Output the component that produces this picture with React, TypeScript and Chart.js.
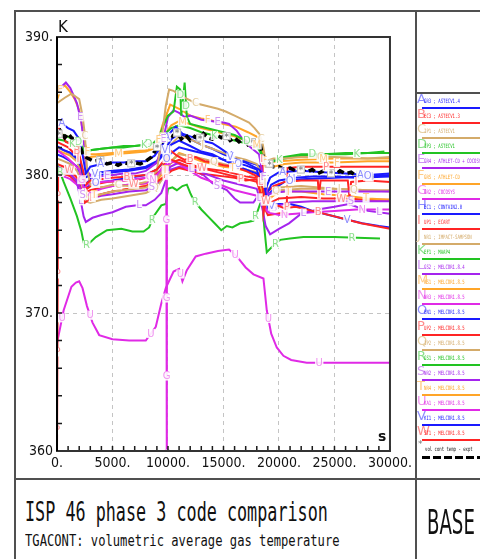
import React, { useEffect, useRef } from 'react';
import { Chart, registerables } from 'chart.js';

Chart.register(...registerables);

type Pts = [number, number][];

// ---- axis ticks ----
const X_MIN = 0;
const X_MAX = 30000;
const X_STEP = 1000;
const X_LABEL_EVERY = 5000;
const Y_MIN = 360;
const Y_MAX = 390;
const Y_STEP = 2;
const Y_LABEL_EVERY = 10;

// ---- series: [time s, temperature K] ----
const EXPT: Pts = [[0,382.8],[300,383.2],[700,382.7],[1000,383.0],[1400,382.6],[1800,382.8],[2100,382.0],[2400,381.4],[2800,381.2],[3300,381.0],[4000,381.1],[4500,380.8],[5000,380.9],[5500,380.7],[6000,380.9],[6500,380.8],[7000,380.9],[7500,380.8],[8000,381.0],[8500,381.3],[9000,382.0],[9400,382.5],[9700,382.3],[10000,383.0],[10400,382.8],[10800,383.1],[11200,382.6],[11600,382.9],[12000,382.5],[12400,382.8],[12800,382.6],[13200,383.0],[13600,382.7],[14000,382.6],[14400,382.9],[14800,382.7],[15200,382.9],[15600,382.5],[16000,382.7],[16400,382.4],[16800,382.6],[17200,382.2],[17600,382.4],[18000,382.0],[18300,382.2],[18600,381.2],[19000,380.9],[19500,380.6],[20000,380.6],[20500,380.4],[21000,380.5],[21500,380.3],[22000,380.4],[22500,380.2],[23000,380.4],[23500,380.1],[24000,380.3],[24500,380.2],[25000,380.0],[25500,380.3],[26000,380.1],[26500,380.2],[27000,379.9],[27500,380.1],[28000,379.9],[28600,379.8]];
const A_GR3: Pts = [[0,384.0],[500,383.7],[1000,383.4],[1500,383.2],[2000,382.6],[2300,381.5],[2600,380.1],[3000,380.6],[4000,380.8],[5000,380.9],[6000,380.9],[7000,381.0],[8000,381.0],[8800,381.4],[9500,382.2],[10000,382.9],[10700,383.5],[11300,383.0],[12000,382.8],[13000,382.5],[14000,382.3],[14600,382.0],[15500,381.5],[16100,381.1],[17000,380.9],[18200,380.4],[18600,380.0],[18800,379.0],[19200,379.8],[20000,380.2],[22000,380.3],[24000,380.2],[26000,380.1],[28000,380.0],[30000,380.1]];
const B_EC3: Pts = [[0,383.7],[400,383.0],[800,382.4],[1400,382.2],[2000,381.5],[2300,380.5],[2600,379.3],[3000,379.6],[4000,379.7],[5000,379.8],[6500,379.9],[8000,380.0],[9000,380.4],[9600,381.0],[10200,381.8],[10800,381.4],[11500,381.1],[12500,381.3],[13300,381.0],[14000,380.9],[15000,380.7],[16000,380.6],[17000,380.3],[17800,380.0],[18400,379.7],[18700,378.4],[19200,377.6],[19800,377.8],[20500,377.6],[21500,377.7],[23000,377.4],[25000,377.0],[27400,376.5],[30000,376.1]];
const C_IP1: Pts = [[0,385.2],[700,385.6],[1300,385.9],[2000,385.5],[2300,384.3],[2500,383.0],[2700,380.5],[3000,379.3],[4000,379.1],[5000,379.3],[6500,379.2],[8000,379.5],[9000,380.3],[9400,382.5],[9800,385.0],[10100,386.2],[10500,386.1],[11000,385.8],[11500,385.6],[12500,385.2],[13500,385.0],[14500,384.8],[15200,384.6],[16000,384.3],[16800,384.0],[17300,383.8],[17800,383.4],[18200,383.0],[18500,382.4],[18800,381.0],[19500,381.2],[20500,381.2],[22000,381.3],[25000,381.3],[28000,381.2],[30000,381.3]];
const D_IP3: Pts = [[0,383.0],[600,382.9],[1200,382.7],[1800,382.5],[2200,382.2],[2500,381.6],[3000,381.8],[4000,381.9],[5000,382.0],[6000,382.1],[7000,382.1],[8000,382.2],[8700,382.3],[9200,382.8],[9600,383.6],[10000,384.3],[10500,384.6],[10800,386.4],[11100,386.2],[11200,384.3],[11500,386.7],[11700,384.2],[12000,383.7],[13000,383.5],[14000,383.3],[15000,383.1],[16000,382.9],[17000,382.5],[17600,382.3],[18200,382.1],[18600,381.2],[19000,380.9],[19600,381.1],[20500,381.3],[22000,381.5],[24000,381.5],[26000,381.6],[28000,381.6],[29500,381.7]];
const E_GR4: Pts = [[0,385.9],[400,386.4],[800,386.7],[1200,386.3],[1800,385.2],[2200,383.8],[2500,381.8],[2700,380.3],[3200,379.8],[4000,379.9],[5000,380.0],[6000,380.1],[7000,380.1],[8000,380.3],[9000,380.9],[9500,382.3],[10000,384.2],[10500,384.7],[11000,384.5],[11500,384.2],[12000,384.3],[13000,384.0],[14000,383.9],[15000,383.8],[15500,383.7],[16200,383.2],[17000,382.3],[17600,381.9],[18200,381.5],[18500,380.2],[19000,378.6],[19500,378.7],[20500,378.8],[22000,378.8],[25000,378.8],[28000,378.8],[30000,378.8]];
const F_GRS: Pts = [[0,385.4],[300,386.2],[700,386.5],[1200,386.0],[1600,385.5],[2000,384.7],[2300,383.3],[2500,382.3],[2800,381.5],[3500,381.5],[5000,381.6],[6500,381.7],[8000,381.8],[9000,382.2],[9500,383.6],[10200,385.1],[11000,384.8],[12000,384.3],[13000,384.1],[13700,384.0],[15000,383.7],[16100,383.5],[17200,383.1],[18200,382.7],[18500,381.8],[18800,380.6],[19500,380.6],[20500,380.8],[22000,380.9],[25000,380.9],[28000,381.0],[30000,381.0]];
const G_GR2: Pts = [[0,381.8],[500,381.5],[1000,381.2],[1500,380.8],[2000,380.4],[2400,379.0],[2700,379.3],[4000,379.5],[6000,379.6],[8000,379.8],[9000,380.0],[9600,380.6],[9850,380.8],[9900,355.0]];
const H_EC1: Pts = [[0,382.1],[600,381.8],[1200,381.6],[1800,381.2],[2200,380.6],[2500,379.2],[3000,379.7],[4000,380.0],[5000,380.2],[6500,380.3],[8000,380.5],[9000,380.9],[9700,381.6],[10300,382.2],[11000,382.5],[12000,382.1],[13000,381.7],[14000,381.5],[15000,381.1],[16000,380.7],[17000,380.4],[18000,380.1],[18500,379.6],[18900,378.6],[19300,379.3],[20000,379.6],[21500,379.8],[23000,379.9],[25000,379.9],[27000,379.8],[30000,379.9]];
const I_UP1: Pts = [[0,382.4],[500,382.2],[1000,382.0],[1500,381.6],[2000,381.0],[2400,379.8],[2700,379.0],[3200,379.3],[4500,379.5],[6000,379.6],[7500,379.7],[8500,379.9],[9300,380.3],[10000,381.2],[10600,381.0],[11200,380.8],[12000,380.6],[13000,380.5],[14000,380.4],[15000,380.3],[16000,380.1],[17000,379.9],[17800,379.8],[18300,380.0],[18500,381.5],[18600,377.2],[19000,378.8],[19500,379.2],[20500,379.5],[22000,379.6],[23500,379.6],[23600,378.5],[23750,379.6],[26200,379.6],[26350,378.4],[26500,379.5],[28000,379.6],[30000,379.5]];
const J_NR1: Pts = [[0,382.0],[600,381.8],[1200,381.5],[1800,381.0],[2200,380.2],[2500,378.4],[3000,378.4],[4000,378.6],[5000,378.8],[6000,378.9],[7000,379.0],[8000,379.1],[8800,379.4],[9500,380.5],[10000,382.0],[11000,382.8],[12000,382.6],[13000,382.2],[14000,381.9],[15000,381.6],[16000,381.3],[17000,381.1],[18000,380.8],[18500,379.8],[19000,379.0],[20000,379.1],[22000,379.2],[25000,379.0],[28000,378.9],[30000,378.8]];
const K_EF1: Pts = [[0,382.6],[600,382.5],[1200,382.3],[1800,382.1],[2300,381.6],[2600,381.5],[3000,381.8],[4000,381.9],[5000,382.0],[6000,382.0],[7000,382.1],[8000,382.2],[9000,382.4],[9600,382.9],[10300,383.4],[11000,383.6],[12000,383.4],[13000,383.1],[14000,382.9],[15000,382.7],[16000,382.5],[17000,382.3],[18000,382.1],[18500,381.4],[18800,380.8],[19500,381.0],[20500,381.2],[22000,381.4],[24000,381.5],[26000,381.5],[28000,381.6],[30000,381.6]];
const L_GS2: Pts = [[0,380.6],[600,380.4],[1200,380.1],[1800,379.5],[2100,378.3],[2400,377.0],[2600,376.6],[3200,376.9],[4000,377.1],[5000,377.3],[6200,377.7],[7200,377.8],[8000,377.8],[8800,378.2],[9400,378.7],[9800,379.6],[10200,380.6],[11000,380.9],[12000,380.5],[13000,380.2],[14000,379.9],[15000,379.6],[16000,379.4],[17000,379.2],[18000,379.0],[18500,377.6],[18800,376.3],[19200,375.7],[20000,376.1],[20900,376.5],[22000,377.2],[23500,377.5],[25000,377.7],[26300,377.9],[28000,377.4],[30000,377.2]];
const M_RS1: Pts = [[0,383.0],[600,382.9],[1200,382.7],[1800,382.3],[2200,381.8],[2500,381.2],[3000,381.3],[4000,381.4],[5000,381.5],[6500,381.6],[8000,381.7],[9000,382.0],[9600,382.8],[10300,383.6],[11000,383.9],[12000,383.7],[13000,383.4],[14000,383.2],[15000,383.0],[16000,382.8],[17000,382.5],[17800,382.3],[18300,382.0],[18600,381.1],[19000,380.9],[20000,381.0],[22000,381.1],[25000,381.2],[28000,381.2],[30000,381.2]];
const N_NR3: Pts = [[0,380.0],[600,379.9],[1200,379.7],[1800,379.3],[2200,378.8],[2500,378.3],[3000,378.7],[4000,379.0],[5000,379.2],[6500,379.3],[8000,379.4],[9000,379.8],[9600,380.4],[10300,381.0],[11000,380.8],[12000,380.3],[13000,379.8],[14000,379.5],[15000,379.2],[16000,378.9],[17000,378.7],[18000,378.5],[18500,377.9],[19000,377.3],[20000,377.1],[21500,377.2],[23000,377.3],[25000,377.4],[27000,377.5],[30000,377.5]];
const O_EN1: Pts = [[0,381.5],[600,381.3],[1200,381.0],[1800,380.6],[2200,380.0],[2500,378.9],[3000,379.3],[4000,379.5],[5000,379.6],[6500,379.8],[8000,380.0],[9000,380.4],[9700,381.0],[10300,381.6],[11000,382.0],[12000,381.8],[13000,381.6],[14000,381.4],[15000,381.1],[16000,380.9],[17000,380.7],[18000,380.4],[18500,379.2],[18900,378.4],[19500,379.0],[20500,379.5],[22000,379.7],[25000,379.8],[28000,379.9],[30000,380.0]];
const P_UP2: Pts = [[0,360.0],[100,380.3],[600,380.1],[1200,379.9],[1800,379.4],[2200,378.6],[2500,378.0],[3000,378.3],[4000,378.6],[5000,378.8],[6500,379.0],[8000,379.2],[9000,379.5],[9700,379.9],[10300,380.3],[11000,380.5],[12000,380.3],[13000,380.1],[14000,380.0],[15000,379.9],[16000,379.8],[17000,379.6],[18000,379.7],[18500,378.0],[19000,377.1],[19800,377.2],[20700,377.3],[20750,380.5],[22000,380.6],[25000,380.6],[28000,380.6],[30000,380.6]];
const Q_IP2: Pts = [[0,381.2],[600,381.0],[1200,380.8],[1800,380.3],[2200,379.6],[2500,378.1],[3000,378.0],[4000,378.2],[5000,378.3],[6500,378.5],[8000,378.7],[9000,379.1],[9700,380.0],[10300,381.0],[11000,381.5],[12000,381.4],[13000,381.2],[14000,381.0],[15000,380.8],[16000,380.6],[17000,380.4],[18000,380.2],[18500,379.2],[19000,378.6],[20000,378.9],[22000,379.0],[25000,379.0],[28000,378.9],[30000,378.9]];
const R_GS1: Pts = [[0,380.8],[600,379.5],[1200,378.3],[1800,377.0],[2200,375.9],[2400,375.1],[2700,374.9],[3500,375.5],[4500,376.0],[5800,376.1],[6800,375.9],[7800,375.9],[8300,376.2],[8700,377.0],[9400,377.8],[9800,377.9],[10000,379.0],[10400,379.1],[10800,378.9],[11300,379.2],[11700,379.3],[12000,378.7],[12300,378.2],[13000,377.5],[13600,377.0],[14200,376.5],[14800,376.0],[15300,376.3],[15800,376.2],[16500,376.5],[17200,376.6],[17700,376.7],[18000,377.2],[18300,377.9],[18500,378.0],[18700,376.0],[18900,374.4],[19500,374.9],[20100,375.3],[21000,375.4],[22200,375.5],[25000,375.5],[29100,375.4]];
const S_NR2: Pts = [[0,380.3],[600,380.2],[1200,380.0],[1800,379.6],[2200,378.9],[2500,378.0],[3000,378.3],[4000,378.5],[5000,378.6],[6500,378.8],[8000,378.9],[9000,379.3],[9700,379.9],[10300,380.4],[11000,380.6],[12000,380.4],[13200,380.0],[14000,379.4],[15300,378.9],[16000,378.3],[16500,378.0],[17700,378.0],[18200,378.6],[18500,378.0],[19000,377.4],[20000,377.8],[21000,378.0],[23000,378.1],[26000,378.1],[30000,378.1]];
const T_NR4: Pts = [[0,381.8],[600,381.6],[1200,381.4],[1800,381.0],[2200,380.2],[2500,378.6],[3000,378.5],[4000,378.6],[5000,378.8],[6500,379.0],[8000,379.2],[9000,379.6],[9700,380.3],[10300,381.0],[11000,381.6],[12000,381.3],[13000,381.0],[14000,380.8],[15000,380.6],[16000,380.5],[17000,380.3],[18000,380.2],[18500,378.8],[19000,378.2],[20000,378.8],[22000,378.8],[24000,378.6],[26000,378.5],[28000,378.3],[30000,378.2]];
const U_KA1: Pts = [[0,367.8],[600,370.2],[1300,371.9],[1700,372.2],[2000,372.3],[2300,371.8],[2700,370.5],[3200,369.3],[3800,368.4],[5000,368.1],[6500,368.0],[8000,368.0],[8900,369.0],[9400,370.7],[9800,371.8],[10500,373.0],[11000,373.2],[11300,372.3],[11700,373.1],[12500,374.1],[13400,374.3],[14500,374.5],[15500,374.6],[16200,374.1],[17000,373.3],[17700,372.8],[18600,372.5],[18900,370.2],[19300,368.5],[19800,367.5],[20400,366.9],[21100,366.6],[22500,366.4],[25400,366.4],[30000,366.4]];
const V_KI1: Pts = [[0,382.0],[600,381.8],[1200,381.6],[1800,381.2],[2200,380.6],[2500,379.8],[3000,380.0],[4000,380.2],[5000,380.3],[6500,380.4],[8000,380.6],[9000,381.0],[9700,381.8],[10300,382.6],[11000,383.0],[12000,382.6],[13000,382.2],[14000,381.9],[15000,381.5],[16000,381.2],[17000,381.0],[17800,380.8],[18300,380.6],[18600,378.8],[19000,377.6],[19800,377.9],[21000,377.9],[22000,377.7],[23000,377.4],[24500,377.1],[26000,376.8],[27500,376.5],[29000,376.3],[30000,376.2]];
const W_ST1: Pts = [[0,380.8],[600,380.6],[1200,380.3],[1800,379.8],[2200,379.0],[2500,378.7],[3000,378.9],[4000,379.1],[5000,379.2],[6500,379.3],[8000,379.4],[9000,379.8],[9700,380.4],[10300,380.9],[11000,381.1],[12000,380.8],[13000,380.5],[14000,380.3],[15000,380.1],[16000,379.9],[17000,379.7],[18000,379.5],[18500,378.5],[19000,377.9],[20000,378.3],[22000,378.4],[24000,378.3],[26000,378.3],[28000,378.2],[30000,378.2]];

const LETTERS = ['A','B','C','D','E','F','G','H','I','J','K','L','M','N','O','P','Q','R','S','T','U','V','W'];
const LABELS = [
  'GR3 ; ASTECV1.4', 'EC3 ; ASTECV1.3', 'IP1 ; ASTECV1', 'IP3 ; ASTECV1',
  'GR4 ; ATHLET-CD + COCOSYS', 'GRS ; ATHLET-CD', 'GR2 ; COCOSYS', 'EC1 ; CONTAIN2.0',
  'UP1 ; ECART', 'NR1 ; IMPACT-SAMPSON', 'EF1 ; MAAP4', 'GS2 ; MELCOR1.8.4',
  'RS1 ; MELCOR1.8.5', 'NR3 ; MELCOR1.8.5', 'EN1 ; MELCOR1.8.5', 'UP2 ; MELCOR1.8.5',
  'IP2 ; MELCOR1.8.5', 'GS1 ; MELCOR1.8.5', 'NR2 ; MELCOR1.8.5', 'NR4 ; MELCOR1.8.5',
  'KA1 ; MELCOR1.8.5', 'KI1 ; MELCOR1.8.5', 'ST1 ; MELCOR1.8.5',
];
const SERIES: Pts[] = [A_GR3, B_EC3, C_IP1, D_IP3, E_GR4, F_GRS, G_GR2, H_EC1, I_UP1, J_NR1, K_EF1, L_GS2, M_RS1, N_NR3, O_EN1, P_UP2, Q_IP2, R_GS1, S_NR2, T_NR4, U_KA1, V_KI1, W_ST1];
const EXPT_LABEL = 'vol cont temp - expt';

const LINE_COLORS = ['#1a1aff', '#ff2424', '#d4ab6a', '#22c322', '#a524ee', '#ffa528', '#e02ae6'];
const PASTEL_COLORS = ['#8c8cff', '#ff8c8c', '#e6cfa2', '#8ce08c', '#cf94f3', '#ffcb86', '#f094f0'];

const TICK_FONT = '"Liberation Sans Narrow", "DejaVu Sans Condensed", "Arial Narrow", sans-serif';

const markerPlugin = {
  id: 'letterMarkers',
  afterDatasetsDraw(chart: any) {
    const ctx = chart.ctx as CanvasRenderingContext2D;
    const a = chart.chartArea;
    ctx.save();
    ctx.beginPath();
    ctx.rect(a.left, a.top, a.right - a.left, a.bottom - a.top);
    ctx.clip();
    chart.data.datasets.forEach((ds: any, di: number) => {
      const pts = chart.getDatasetMeta(di).data as any[];
      const spacing: number = ds.markSpacing;
      let pos: number = ds.markOffset;
      const draw = (x: number, y: number) => {
        if (ds.isExpt) {
          ctx.fillStyle = '#ffffff';
          ctx.fillRect(x - 4, y - 4, 8, 8);
          ctx.strokeStyle = '#b8b8b8';
          ctx.lineWidth = 1;
          ctx.strokeRect(x - 3.5, y - 3.5, 7, 7);
          ctx.fillStyle = '#8a8a8a';
          ctx.font = 'bold 9px "DejaVu Sans"';
          ctx.textAlign = 'center';
          ctx.textBaseline = 'middle';
          ctx.fillText('*', x, y + 1.5);
        } else {
          ctx.font = '10px "DejaVu Sans"';
          const w = ctx.measureText(ds.markLetter).width;
          ctx.fillStyle = 'rgba(255,255,255,0.9)';
          ctx.fillRect(x - w / 2 - 0.5, y - 4.5, w + 1, 9);
          ctx.fillStyle = ds.markColor;
          ctx.textAlign = 'center';
          ctx.textBaseline = 'middle';
          ctx.fillText(ds.markLetter, x, y + 0.5);
        }
      };
      for (let k = 1; k < pts.length; k++) {
        const x0 = pts[k - 1].x, y0 = pts[k - 1].y, x1 = pts[k].x, y1 = pts[k].y;
        const seg = Math.hypot(x1 - x0, y1 - y0);
        while (pos <= seg) {
          const t = seg === 0 ? 0 : pos / seg;
          draw(x0 + (x1 - x0) * t, y0 + (y1 - y0) * t);
          pos += spacing;
        }
        pos -= seg;
      }
    });
    ctx.restore();
  },
};

const framePlugin = {
  id: 'plotFrame',
  afterDraw(chart: any) {
    const ctx = chart.ctx as CanvasRenderingContext2D;
    const a = chart.chartArea;
    const xs = chart.scales.x;
    const ys = chart.scales.y;
    ctx.save();
    ctx.strokeStyle = '#1a1a1a';
    ctx.lineWidth = 1.5;
    ctx.beginPath();
    xs.ticks.forEach((t: any) => {
      const px = xs.getPixelForValue(t.value);
      ctx.moveTo(px, a.bottom);
      ctx.lineTo(px, a.bottom - 5);
    });
    ys.ticks.forEach((t: any) => {
      const py = ys.getPixelForValue(t.value);
      ctx.moveTo(a.left, py);
      ctx.lineTo(a.left + 5, py);
    });
    ctx.stroke();
    ctx.strokeStyle = '#333333';
    ctx.lineWidth = 2;
    ctx.strokeRect(a.left, a.top, a.right - a.left, a.bottom - a.top);
    ctx.strokeStyle = '#000000';
    ctx.beginPath();
    ctx.moveTo(a.left, a.top);
    ctx.lineTo(a.left, a.bottom);
    ctx.stroke();
    ctx.restore();
  },
};

function abs(left: number, top: number, extra: React.CSSProperties = {}): React.CSSProperties {
  return { position: 'absolute', left, top, margin: 0, padding: 0, whiteSpace: 'nowrap', ...extra };
}

export default function App() {
  const ref = useRef<HTMLCanvasElement | null>(null);

  useEffect(() => {
    if (!ref.current) return;
    const datasets: any[] = [];
    datasets.push({
      label: EXPT_LABEL,
      data: EXPT.map(([x, y]) => ({ x, y })),
      borderColor: '#000000',
      borderWidth: 3.5,
      borderDash: [7, 4],
      pointRadius: 0,
      tension: 0,
      fill: false,
      isExpt: true,
      markSpacing: 34,
      markOffset: 3,
    });
    SERIES.forEach((pts, i) => {
      datasets.push({
        label: LETTERS[i] + ' ' + LABELS[i],
        data: pts.map(([x, y]) => ({ x, y })),
        borderColor: LINE_COLORS[i % 7],
        borderWidth: 2,
        pointRadius: 0,
        tension: 0,
        fill: false,
        markLetter: LETTERS[i],
        markColor: PASTEL_COLORS[i % 7],
        markSpacing: 78,
        markOffset: 6 + ((i * 29) % 70),
      });
    });

    const gridColor = (every: number, lo: number, hi: number) => (c: any) => {
      const v = c.tick ? c.tick.value : NaN;
      return v % every === 0 && v > lo && v < hi ? '#c4c4c4' : 'rgba(0,0,0,0)';
    };

    const chart = new Chart(ref.current, {
      type: 'line',
      data: { datasets },
      plugins: [markerPlugin, framePlugin],
      options: {
        animation: false,
        responsive: false,
        events: [],
        layout: { padding: { top: 37, right: 23, bottom: 0, left: 0 } },
        plugins: { legend: { display: false }, tooltip: { enabled: false }, title: { display: false } },
        scales: {
          x: {
            type: 'linear',
            min: X_MIN,
            max: X_MAX,
            afterFit: (s: any) => { s.height = 27; },
            ticks: {
              stepSize: X_STEP,
              autoSkip: false,
              maxRotation: 0,
              minRotation: 0,
              padding: 4,
              color: '#111111',
              font: { family: TICK_FONT, size: 14 },
              callback: (v: any) => (Number(v) % X_LABEL_EVERY === 0 ? `${v}.` : ''),
            },
            grid: { drawTicks: false, color: gridColor(X_LABEL_EVERY, X_MIN, X_MAX), lineWidth: 1 },
            border: { display: false, dash: [4, 4] },
          },
          y: {
            type: 'linear',
            min: Y_MIN,
            max: Y_MAX,
            afterFit: (s: any) => { s.width = 57; },
            ticks: {
              stepSize: Y_STEP,
              autoSkip: false,
              padding: 4,
              color: '#111111',
              font: { family: TICK_FONT, size: 14 },
              callback: (v: any) => {
                const n = Number(v);
                if (n % Y_LABEL_EVERY !== 0) return '';
                return n === Y_MIN ? `${n}` : `${n}.`;
              },
            },
            grid: { drawTicks: false, color: gridColor(Y_LABEL_EVERY, Y_MIN, Y_MAX), lineWidth: 1 },
            border: { display: false, dash: [4, 4] },
          },
        },
      } as any,
    });
    return () => chart.destroy();
  }, []);

  const frameColor = '#505050';
  const legendRows = LETTERS.map((letter, i) => {
    const ly = 108 + 15.1 * i;
    return (
      <React.Fragment key={letter}>
        <div style={abs(417, ly - 16, { fontFamily: '"DejaVu Sans"', fontSize: 13, lineHeight: '13px', color: PASTEL_COLORS[i % 7] })}>{letter}</div>
        <div style={abs(424, ly - 10, { fontFamily: '"DejaVu Sans Mono"', fontSize: 6, lineHeight: '6px', color: LINE_COLORS[i % 7], transform: 'scaleX(0.66)', transformOrigin: 'left top' })}>{LABELS[i]}</div>
        <div style={abs(422, ly - 1, { width: 60, height: 2, background: LINE_COLORS[i % 7] })} />
      </React.Fragment>
    );
  });

  return (
    <div style={{ position: 'absolute', left: 0, top: 0, width: 480, height: 559, overflow: 'hidden', background: '#ffffff' }}>
      <canvas ref={ref} width={416} height={478} style={{ position: 'absolute', left: 0, top: 0, width: 416, height: 478 }} />
      {/* axis unit labels */}
      <div style={abs(58, 20, { fontFamily: '"DejaVu Sans"', fontSize: 15, lineHeight: '15px', color: '#111' })}>K</div>
      <div style={abs(378, 429, { fontFamily: '"DejaVu Sans"', fontSize: 14, lineHeight: '14px', fontWeight: 'bold', color: '#111' })}>s</div>
      {/* frames */}
      <div style={abs(14, 10, { width: 470, height: 2, background: frameColor })} />
      <div style={abs(14, 10, { width: 2, height: 560, background: frameColor })} />
      <div style={abs(415, 10, { width: 2, height: 560, background: frameColor })} />
      <div style={abs(14, 478, { width: 470, height: 2, background: frameColor })} />
      <div style={abs(416, 92, { width: 70, height: 2, background: frameColor })} />
      {/* legend */}
      {legendRows}
      <div style={abs(418, 440, { fontFamily: '"DejaVu Sans"', fontSize: 9, lineHeight: '9px', color: '#777' })}>*</div>
      <div style={abs(425, 446, { fontFamily: '"DejaVu Sans Mono"', fontSize: 6, lineHeight: '6px', color: '#111', transform: 'scaleX(0.66)', transformOrigin: 'left top' })}>{EXPT_LABEL}</div>
      <div style={abs(422, 456, { width: 60, height: 3, background: 'repeating-linear-gradient(to right, #000 0px, #000 8px, transparent 8px, transparent 11px)' })} />
      {/* title block */}
      <div style={abs(25, 499, { fontFamily: '"DejaVu Sans Mono"', fontSize: 26, lineHeight: '26px', color: '#111', transform: 'scaleX(0.645)', transformOrigin: 'left top' })}>ISP 46 phase 3 code comparison</div>
      <div style={abs(25, 534, { fontFamily: '"DejaVu Sans Mono"', fontSize: 15, lineHeight: '15px', color: '#111', transform: 'scaleX(0.81)', transformOrigin: 'left top' })}>TGACONT: volumetric average gas temperature</div>
      <div style={abs(427, 506, { fontFamily: '"DejaVu Sans"', fontSize: 33, lineHeight: '33px', color: '#111', transform: 'scaleX(0.55)', transformOrigin: 'left top' })}>BASE</div>
    </div>
  );
}
